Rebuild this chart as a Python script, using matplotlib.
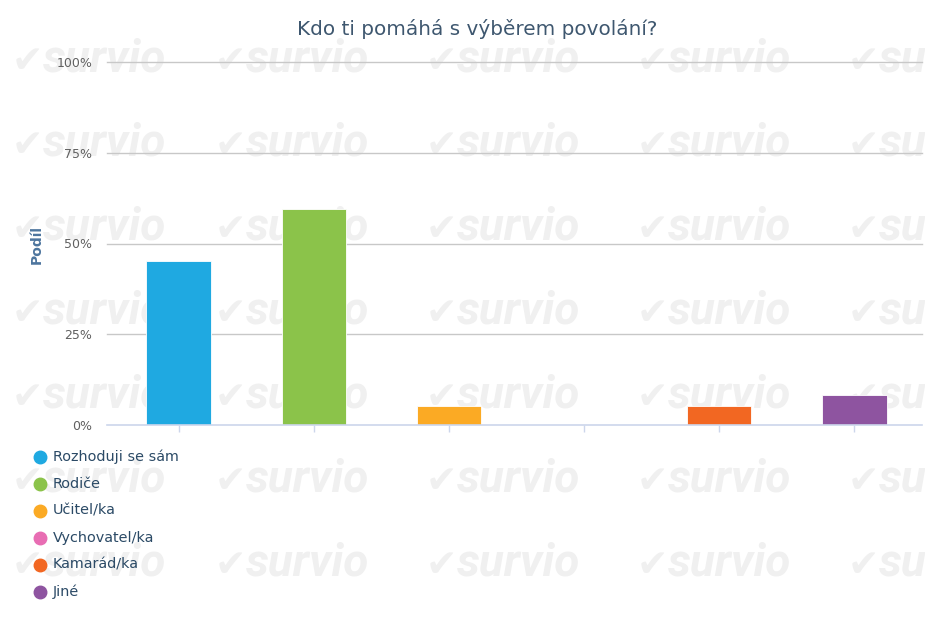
import matplotlib
matplotlib.use("Agg")
import matplotlib.pyplot as plt
from matplotlib.lines import Line2D

title = "Kdo ti pomáhá s výběrem povolání?"
categories = ["Rozhoduji se sám", "Rodiče", "Učitel/ka", "Vychovatel/ka", "Kamarád/ka", "Jiné"]
values = [45.2, 59.5, 5.2, 0.0, 5.2, 8.3]
colors = ["#1fa9e1", "#8bc34a", "#fbaa24", "#e86db3", "#f26722", "#8e54a0"]
yticks = [0, 25, 50, 75, 100]
ytick_labels = ["0%", "25%", "50%", "75%", "100%"]
ylabel = "Podíl"
watermark = "survio"

plt.rcParams['font.family'] = ['DejaVu Sans']

W, H = 925, 633
fig = plt.figure(figsize=(W / 100, H / 100), dpi=100)
fig.patch.set_facecolor("white")

# background watermark tiles
wm_color = "#f0f0f0"
col_x = [12, 215, 426, 637, 848]
for cx in col_x:
    for row in range(7):
        by = 72 + row * 84
        fig.text(cx / W, 1 - by / H, "✔", fontsize=27, color=wm_color,
                 ha="left", va="baseline", zorder=-5, family=["DejaVu Sans"])
        fig.text((cx + 31) / W, 1 - by / H, watermark, fontsize=33, fontweight="bold",
                 fontstyle="italic", color=wm_color, ha="left", va="baseline", zorder=-5,
                 family=["Roboto", "DejaVu Sans"])

L, R, T, B = 111, 922, 62, 425
ax = fig.add_axes([L / W, 1 - B / H, (R - L) / W, (B - T) / H])
ax.patch.set_alpha(0)

x = list(range(len(categories)))
ax.bar(x, values, width=0.475, color=colors, edgecolor="white", linewidth=0.6, zorder=3)

ax.set_xlim(-0.5, len(categories) - 0.5)
ax.set_ylim(0, 100)
ax.set_yticks(yticks)
ax.set_yticklabels(ytick_labels)
ax.tick_params(axis="y", length=0, pad=13.5, labelsize=9, labelcolor="#606060")
ax.set_xticks(x)
ax.set_xticklabels([""] * len(x))
ax.tick_params(axis="x", length=5, width=1, color="#ccd6eb", direction="out")

for s in ["top", "right", "left", "bottom"]:
    ax.spines[s].set_visible(False)

x0 = -0.5 - 4 / ((R - L) / 6)
for t in yticks[1:]:
    ax.plot([x0, len(categories) - 0.5], [t, t], color="#c8c8c8", linewidth=1,
            zorder=1, clip_on=False)
ax.plot([x0, len(categories) - 0.5], [0, 0], color="#ccd6eb", linewidth=1.2,
        zorder=4, clip_on=False)

fig.text(37 / W, 1 - 244 / H, ylabel, rotation=90, fontsize=10, fontweight="bold",
         color="#4d759e", ha="center", va="center")

fig.text(477 / W, 1 - 29 / H, title, fontsize=14.4, color="#3e576f", ha="center", va="center")

# legend
for i, (c, lab) in enumerate(zip(colors, categories)):
    yy = 1 - (457 + i * 27) / H
    fig.add_artist(Line2D([40 / W], [yy], marker="o", markersize=9, color=c,
                          linestyle="none", transform=fig.transFigure))
    fig.text(53 / W, yy, lab, fontsize=10.4, color="#2b4a66", ha="left", va="center")

fig.savefig("out.png", dpi=100, facecolor="white")
